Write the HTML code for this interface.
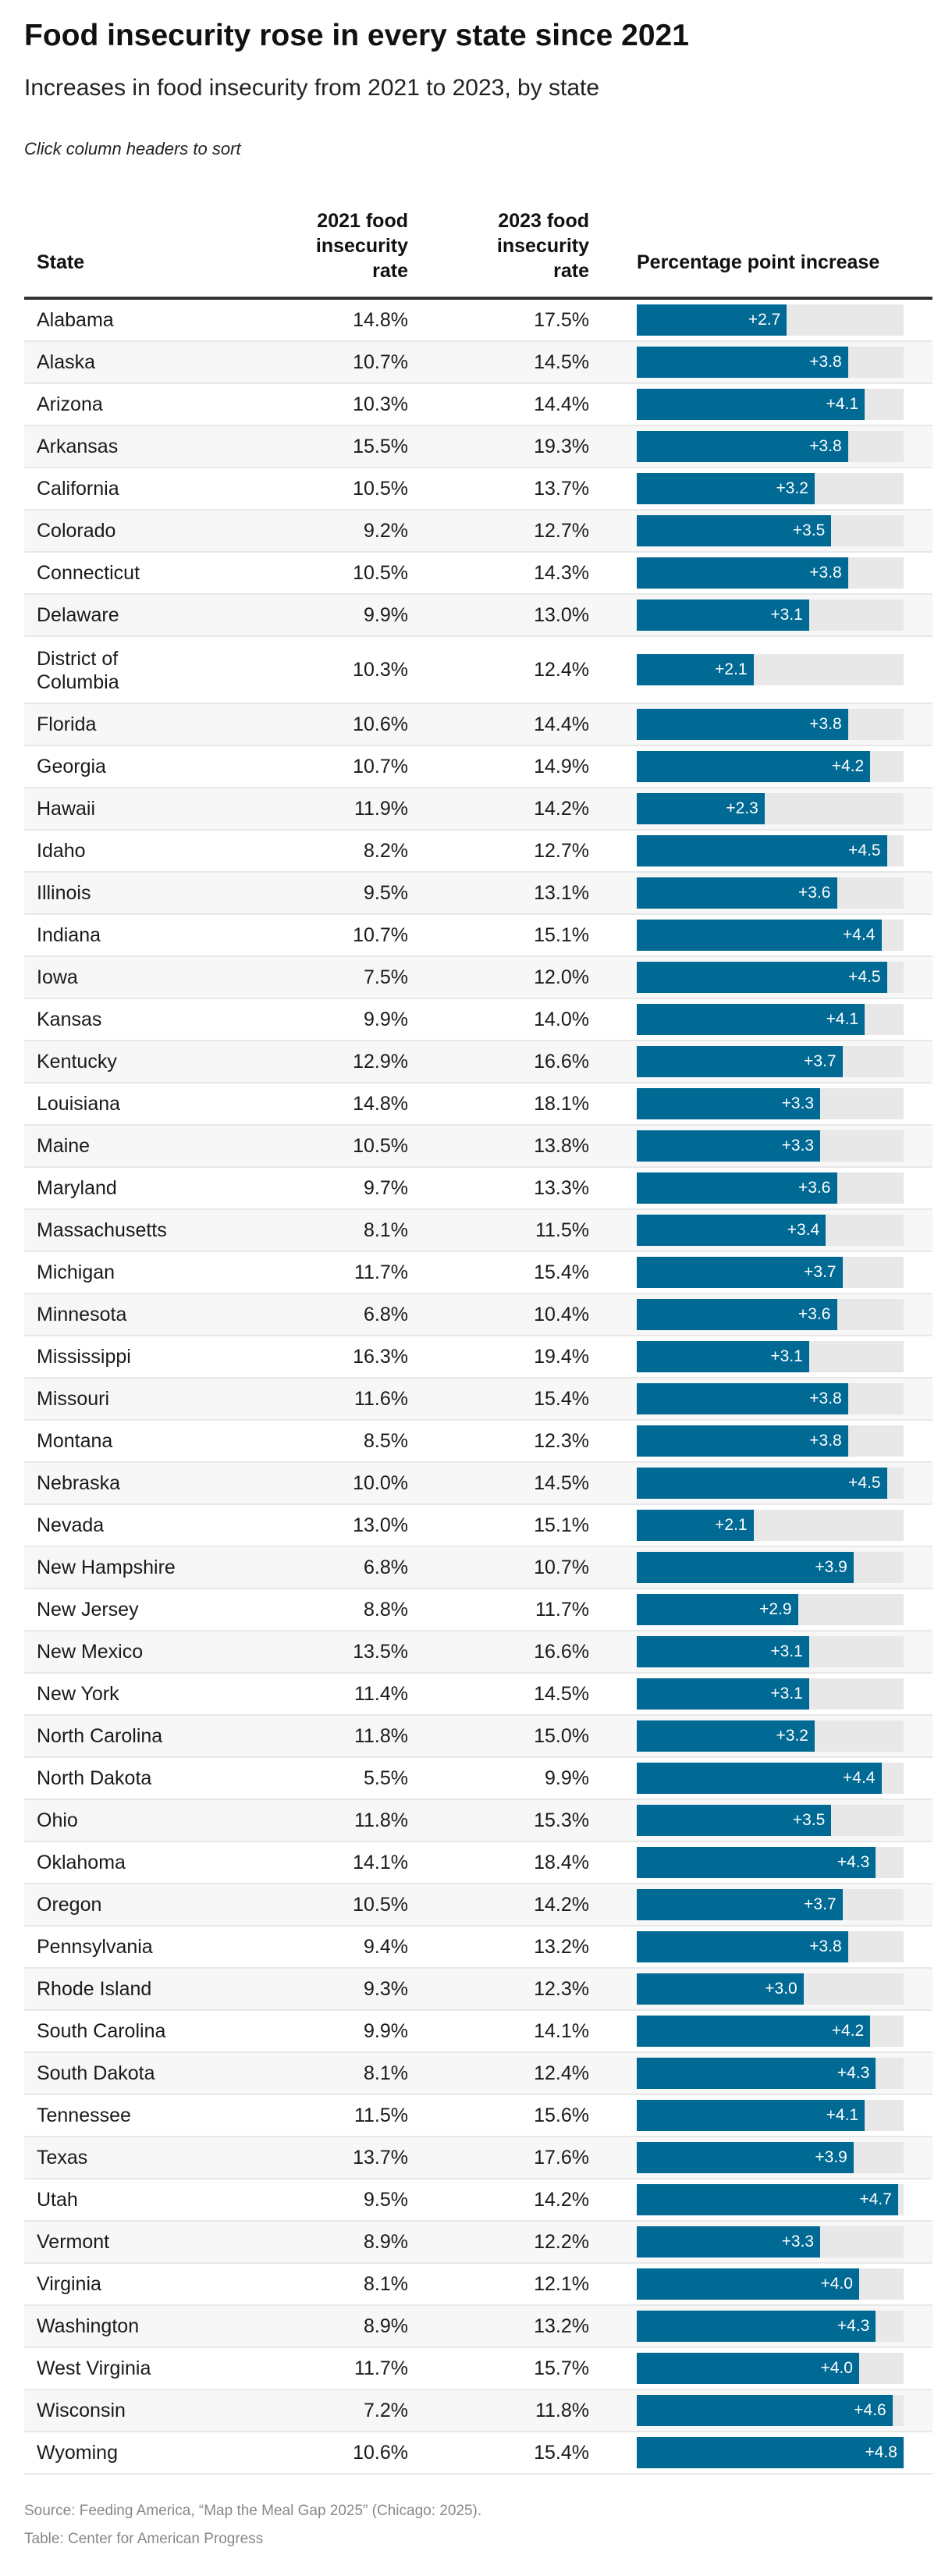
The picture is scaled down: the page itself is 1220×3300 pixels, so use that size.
<!DOCTYPE html>
<html><head><meta charset="utf-8"><style>
body{margin:0;background:#fff;font-family:"Liberation Sans",Arial,sans-serif;color:#1a1a1a;width:1220px;height:3300px;overflow:hidden;position:relative}
.t{position:absolute;white-space:nowrap}
#title{left:31px;top:24px;font-size:39px;font-weight:bold;color:#111}
#sub{left:31px;top:96px;font-size:30px;color:#222}
#hint{left:31px;top:178px;font-size:22px;font-style:italic;color:#222}
.h{position:absolute;font-size:25px;font-weight:bold;line-height:32px;color:#111}
#hline{position:absolute;left:31px;top:380px;width:1164px;height:4px;background:#333}
.row{position:absolute;left:31px;width:1164px;border-bottom:2px solid #e8e8e8;box-sizing:border-box}
.row.odd{background:#f7f7f7}
.c{position:absolute;font-size:25px;color:#1a1a1a;line-height:29px}
.track{position:absolute;left:785px;width:342px;height:40px;background:#e8e8e8}
.bar{position:absolute;left:0;top:0;height:40px;background:#006994}
.lbl{position:absolute;right:8px;top:0;line-height:40px;font-size:21px;color:#fff}
.foot{position:absolute;left:31px;font-size:19px;color:#888}
</style></head><body>
<div class="t" id="title">Food insecurity rose in every state since 2021</div>
<div class="t" id="sub">Increases in food insecurity from 2021 to 2023, by state</div>
<div class="t" id="hint">Click column headers to sort</div>
<div class="h" style="left:47px;top:320px">State</div>
<div class="h" style="right:697px;top:267px;text-align:right">2021 food<br>insecurity<br>rate</div>
<div class="h" style="right:465px;top:267px;text-align:right">2023 food<br>insecurity<br>rate</div>
<div class="h" style="left:816px;top:320px">Percentage point increase</div>
<div id="hline"></div>
<div id="tbl"></div>
<div class="foot" style="top:3206px">Source: Feeding America, “Map the Meal Gap 2025” (Chicago: 2025).</div>
<div class="foot" style="top:3242px">Table: Center for American Progress</div>
<script>
const states=["Alabama","Alaska","Arizona","Arkansas","California","Colorado","Connecticut","Delaware","District of Columbia","Florida","Georgia","Hawaii","Idaho","Illinois","Indiana","Iowa","Kansas","Kentucky","Louisiana","Maine","Maryland","Massachusetts","Michigan","Minnesota","Mississippi","Missouri","Montana","Nebraska","Nevada","New Hampshire","New Jersey","New Mexico","New York","North Carolina","North Dakota","Ohio","Oklahoma","Oregon","Pennsylvania","Rhode Island","South Carolina","South Dakota","Tennessee","Texas","Utah","Vermont","Virginia","Washington","West Virginia","Wisconsin","Wyoming"];
const rate2021=[14.8,10.7,10.3,15.5,10.5,9.2,10.5,9.9,10.3,10.6,10.7,11.9,8.2,9.5,10.7,7.5,9.9,12.9,14.8,10.5,9.7,8.1,11.7,6.8,16.3,11.6,8.5,10.0,13.0,6.8,8.8,13.5,11.4,11.8,5.5,11.8,14.1,10.5,9.4,9.3,9.9,8.1,11.5,13.7,9.5,8.9,8.1,8.9,11.7,7.2,10.6];
const rate2023=[17.5,14.5,14.4,19.3,13.7,12.7,14.3,13.0,12.4,14.4,14.9,14.2,12.7,13.1,15.1,12.0,14.0,16.6,18.1,13.8,13.3,11.5,15.4,10.4,19.4,15.4,12.3,14.5,15.1,10.7,11.7,16.6,14.5,15.0,9.9,15.3,18.4,14.2,13.2,12.3,14.1,12.4,15.6,17.6,14.2,12.2,12.1,13.2,15.7,11.8,15.4];
const increase=[2.7,3.8,4.1,3.8,3.2,3.5,3.8,3.1,2.1,3.8,4.2,2.3,4.5,3.6,4.4,4.5,4.1,3.7,3.3,3.3,3.6,3.4,3.7,3.6,3.1,3.8,3.8,4.5,2.1,3.9,2.9,3.1,3.1,3.2,4.4,3.5,4.3,3.7,3.8,3.0,4.2,4.3,4.1,3.9,4.7,3.3,4.0,4.3,4.0,4.6,4.8];
const xMax=4.8, trackW=342;
function xScale(v){return v/xMax*trackW;}
const tbl=document.getElementById('tbl');
let y=384;
states.forEach((s,i)=>{
  const h=(s==="District of Columbia")?86:54;
  const r=document.createElement('div');
  r.className='row'+(i%2?' odd':'');
  r.style.top=y+'px';r.style.height=h+'px';
  
  
  const mid=(h-2)/2;
  const a=document.createElement('div');a.className='c';
  
  
  a.style.left='16px';
  if(h>54){a.innerHTML='District of<br>Columbia';a.style.top=(mid-29)+'px';a.style.lineHeight='30px';}
  else{a.textContent=s;a.style.top=(mid-14)+'px';}
  r.appendChild(a);
  const b=document.createElement('div');b.className='c';
  
  
  b.style.right=(1164-492)+'px';b.style.top=(mid-14)+'px';b.textContent=rate2021[i].toFixed(1)+'%';
  r.appendChild(b);
  const c=document.createElement('div');c.className='c';
  
  
  c.style.right=(1164-724)+'px';c.style.top=(mid-14)+'px';c.textContent=rate2023[i].toFixed(1)+'%';
  r.appendChild(c);
  const t=document.createElement('div');t.className='track';
  
  
  t.style.top=(mid-20)+'px';
  const bar=document.createElement('div');bar.className='bar';
  
  
  bar.style.width=xScale(increase[i])+'px';
  const l=document.createElement('div');l.className='lbl';
  
  
  l.textContent='+'+increase[i].toFixed(1);
  bar.appendChild(l);t.appendChild(bar);r.appendChild(t);
  tbl.appendChild(r);
  y+=h;
});
</script>
</body></html>
